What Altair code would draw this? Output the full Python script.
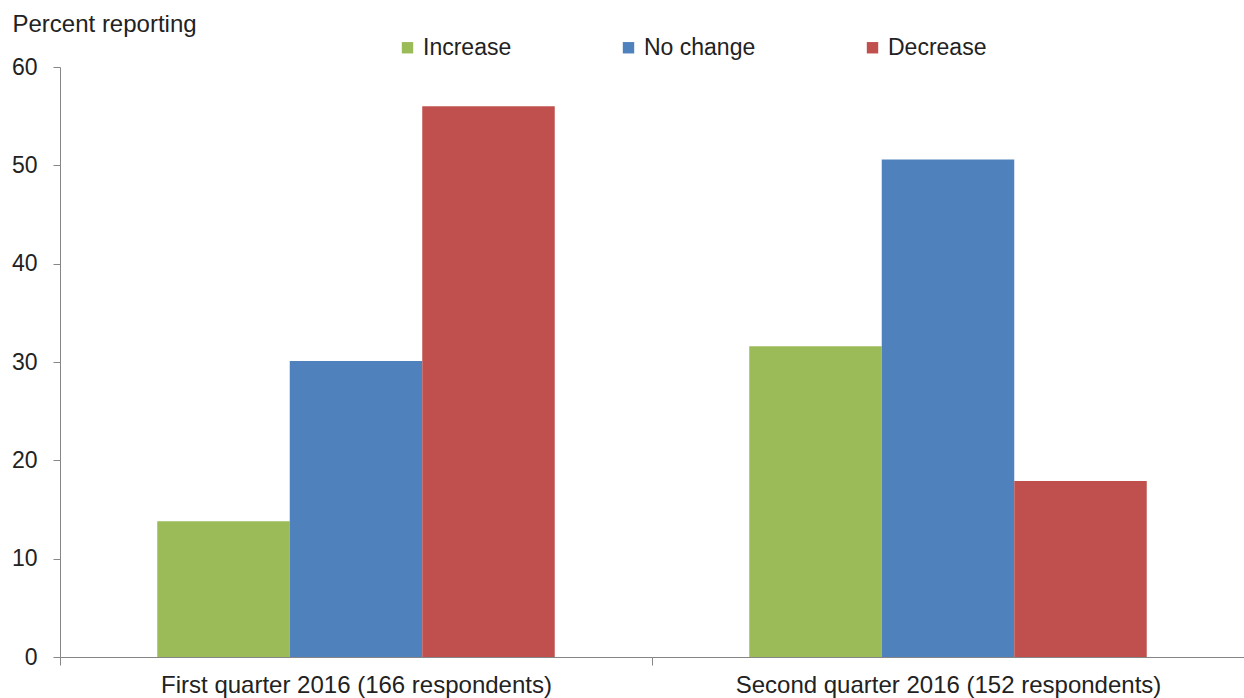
import altair as alt
import pandas as pd

categories = ["First quarter 2016 (166 respondents)", "Second quarter 2016 (152 respondents)"]
series = ["Increase", "No change", "Decrease"]
increase = [13.8, 31.6]
no_change = [30.1, 50.6]
decrease = [56.0, 17.9]
colors = ["#9BBB59", "#4F81BD", "#C0504D"]
y_ticks = [0, 10, 20, 30, 40, 50, 60]

rows = []
for i, cat in enumerate(categories):
    for s, vals in zip(series, [increase, no_change, decrease]):
        rows.append({"quarter": cat, "series": s, "value": vals[i]})
df = pd.DataFrame(rows)

FONT = "Liberation Sans"
TXT = "#222222"
AX = "#868686"

chart = alt.Chart(df).mark_bar(stroke=None).encode(
    x=alt.X("quarter:N", sort=categories,
            scale=alt.Scale(paddingInner=0, paddingOuter=0),
            axis=alt.Axis(title=None, labelAngle=0, labelFontSize=24, labelColor=TXT,
                          labelFont=FONT, labelBaseline="alphabetic", labelPadding=27,
                          labelLimit=0,
                          tickBand="extent", ticks=True, tickSize=8, tickColor=AX,
                          domainColor=AX, grid=False)),
    xOffset=alt.XOffset("series:N", sort=series,
                        scale=alt.Scale(paddingInner=0, paddingOuter=0.734)),
    y=alt.Y("value:Q",
            scale=alt.Scale(domain=[0, 60], nice=False),
            axis=alt.Axis(title="Percent reporting", values=y_ticks, grid=False,
                          titleAngle=0, titleAlign="left", titleBaseline="alphabetic",
                          titleX=-48, titleY=-36, titleFontSize=24, titleFontWeight="normal",
                          titleFont=FONT, titleColor=TXT,
                          labelFontSize=23, labelFont=FONT, labelColor=TXT, labelPadding=16,
                          tickSize=7, tickColor=AX, domainColor=AX)),
    color=alt.Color("series:N", sort=series,
                    scale=alt.Scale(domain=series, range=colors),
                    legend=alt.Legend(title=None, orient="none", direction="horizontal",
                                      legendX=336, legendY=-31, padding=0,
                                      symbolType="square", symbolSize=130, symbolStrokeWidth=0,
                                      labelFontSize=23, labelFont=FONT, labelColor=TXT,
                                      labelOffset=4, columnPadding=105)),
).properties(
    width=1184,
    height=590,
    autosize=alt.AutoSizeParams(type="none"),
    padding={"left": 60, "top": 67, "right": 0, "bottom": 41},
).configure_view(stroke=None)

chart.save("out.html", embed_options={"renderer": "svg", "actions": False})
